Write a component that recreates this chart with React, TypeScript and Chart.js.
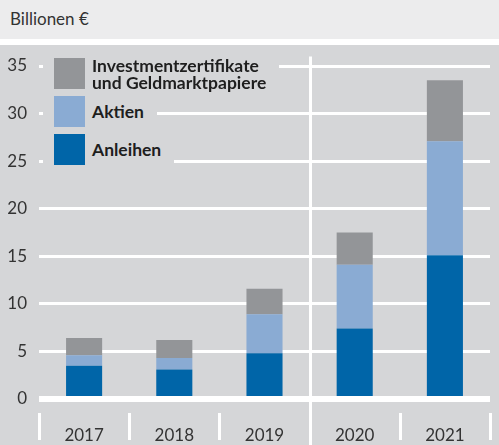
import React, { useEffect, useRef } from "react";
import { Chart, registerables } from "chart.js";

Chart.register(...registerables);

// ---- data ----
const categories = ["2017", "2018", "2019", "2020", "2021"];
const anleihen = [3.5, 3.1, 4.8, 7.4, 15.1];
const aktien = [1.1, 1.2, 4.1, 6.7, 12.0];
const investment = [1.8, 1.9, 2.7, 3.4, 6.4];
const yTicks = [0, 5, 10, 15, 20, 25, 30, 35];
const unitLabel = "Billionen €";
const dividerBefore = "2020";

const legendItems = [
  { label: ["Investmentzertifikate", "und Geldmarktpapiere"], color: "#939598" },
  { label: ["Aktien"], color: "#8aabd3" },
  { label: ["Anleihen"], color: "#0065a8" },
];

const BG = "#d5d6d8";
const FONT = "Lato, 'Open Sans', sans-serif";

const separatorPlugin = {
  id: "separators",
  afterDraw(chart: any) {
    const { ctx, chartArea } = chart;
    const xs = chart.scales.x;
    const half = (xs.getPixelForValue(1) - xs.getPixelForValue(0)) / 2;
    ctx.save();
    ctx.strokeStyle = "#ffffff";
    ctx.lineWidth = 3;
    for (let i = 0; i <= categories.length; i++) {
      const x = Math.round(xs.getPixelForValue(0) - half + i * 2 * half) + 0.5;
      const full = categories[i] === dividerBefore;
      ctx.beginPath();
      ctx.moveTo(x, full ? chartArea.top : chartArea.bottom + 14);
      ctx.lineTo(x, full ? chart.height : chartArea.bottom + 41);
      ctx.stroke();
    }
    ctx.restore();
  },
};

export default function App() {
  const canvasRef = useRef<HTMLCanvasElement | null>(null);

  useEffect(() => {
    let chart: Chart | null = null;
    let cancelled = false;
    const make = () => {
      if (cancelled || !canvasRef.current) return;
      chart = new Chart(canvasRef.current, {
        type: "bar",
        data: {
          labels: categories,
          datasets: [
            { label: "Anleihen", data: anleihen, backgroundColor: "#0065a8", borderWidth: 0 },
            { label: "Aktien", data: aktien, backgroundColor: "#8aabd3", borderWidth: 0 },
            { label: "Investmentzertifikate und Geldmarktpapiere", data: investment, backgroundColor: "#939598", borderWidth: 0 },
          ],
        },
        options: {
          responsive: false,
          animation: false,
          devicePixelRatio: 1,
          barPercentage: 0.4,
          categoryPercentage: 1.0,
          layout: { padding: { top: 11.5, right: 9, left: 0, bottom: 0 } },
          plugins: { legend: { display: false }, tooltip: { enabled: false } },
          scales: {
            x: {
              stacked: true,
              grid: { display: false },
              border: { display: false },
              ticks: { font: { family: FONT, size: 17 }, color: "#333333", padding: 18 },
              afterFit: (s: any) => { s.height = 46; s.paddingLeft = 0; s.paddingRight = 0; },
            },
            y: {
              stacked: true,
              min: 0,
              max: 36,
              afterBuildTicks: (s: any) => { s.ticks = yTicks.map((v) => ({ value: v })); },
              grid: {
                color: "#ffffff",
                lineWidth: (c: any) => (c.tick && c.tick.value === 0 ? 6 : 3),
                drawTicks: false,
              },
              border: { display: false },
              ticks: { font: { family: FONT, size: 17 }, color: "#333333", padding: 12 },
              afterFit: (s: any) => { s.width = 39; s.paddingTop = 0; s.paddingBottom = 0; },
            },
          },
        } as any,
        plugins: [separatorPlugin],
      });
    };
    const fonts: any = (document as any).fonts;
    if (fonts && fonts.load) {
      Promise.all([fonts.load("17px Lato"), fonts.load("bold 17px Lato")]).then(make, make);
    } else make();
    return () => {
      cancelled = true;
      if (chart) chart.destroy();
    };
  }, []);

  const rowTops = [58, 96, 134];

  return (
    <div style={{ position: "absolute", left: 0, top: 0, width: 499, height: 445, background: "#ffffff", fontFamily: FONT }}>
      <div style={{ position: "absolute", left: 0, top: 0, width: 499, height: 39, background: "#ececed" }}>
        <span style={{ position: "absolute", left: 10, top: 9, fontSize: 17, lineHeight: "20px", color: "#333333" }}>{unitLabel}</span>
      </div>
      <div style={{ position: "absolute", left: 0, top: 45, width: 499, height: 400, background: BG }}>
        <canvas ref={canvasRef} width={499} height={400} style={{ display: "block", width: 499, height: 400 }} />
      </div>
      {legendItems.map((item, i) => (
        <div
          key={i}
          style={{
            position: "absolute",
            left: 43,
            top: rowTops[i],
            height: 31,
            background: BG,
            display: "flex",
            alignItems: "center",
            paddingRight: 13,
          }}
        >
          <div style={{ width: 31, height: 31, marginLeft: 11, background: item.color, flex: "none" }} />
          <div style={{ marginLeft: 7, fontWeight: 700, fontSize: 17.5, lineHeight: "17px", color: "#1e1e1e", whiteSpace: "nowrap" }}>
            {item.label.map((l, j) => (
              <div key={j}>{l}</div>
            ))}
          </div>
        </div>
      ))}
    </div>
  );
}
